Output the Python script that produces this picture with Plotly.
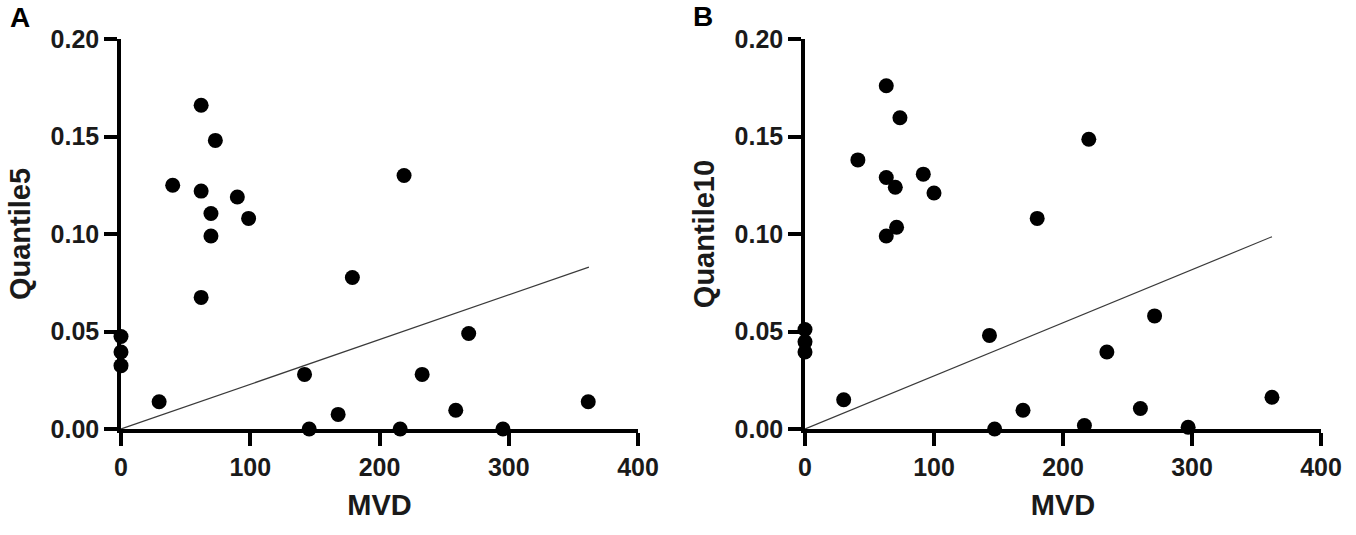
import plotly.graph_objects as go
from plotly.subplots import make_subplots

# panel A: MVD vs Quantile5
mvd_a = [0, 0, 0, 29.5, 40, 62, 62, 62, 73, 69.6, 69.6, 90, 98.7,
         142, 145.6, 168, 179, 216, 219, 233, 259, 269, 295.5, 361.5]
quantile5 = [0.0474, 0.0395, 0.0325, 0.014, 0.125, 0.166, 0.122, 0.0675,
             0.148, 0.1105, 0.099, 0.119, 0.108, 0.028, 0.0, 0.0075,
             0.0777, 0.0, 0.130, 0.028, 0.0096, 0.049, 0.0, 0.014]

# panel B: MVD vs Quantile10
mvd_b = [0, 0, 0, 30, 41, 63, 63, 63, 73.6, 70, 71, 91.7, 100,
         143, 147, 169, 180, 216.6, 220, 234, 260, 271, 297, 362]
quantile10 = [0.051, 0.0447, 0.0395, 0.015, 0.138, 0.176, 0.129, 0.099,
              0.1596, 0.124, 0.1035, 0.1307, 0.121, 0.048, 0.0, 0.0096,
              0.108, 0.0018, 0.1486, 0.0395, 0.0105, 0.058, 0.0009, 0.0163]

# fitted lines (start, end)
fit_x = [0, 362]
fit_a = [0, 0.083]
fit_b = [0, 0.0986]

x_ticks = [0, 100, 200, 300, 400]
y_ticks = [0, 0.05, 0.10, 0.15, 0.20]

W, H = 1356, 535
FONT = "Liberation Sans, Arial, sans-serif"
INK = "#1a1a1a"

fig = make_subplots(rows=1, cols=2)

panels = [(mvd_a, quantile5, fit_a, 1), (mvd_b, quantile10, fit_b, 2)]
for xs, ys, fit, col in panels:
    fig.add_trace(go.Scatter(x=fit_x, y=fit, mode="lines",
                             line=dict(color="#3a3a3a", width=1.2),
                             hoverinfo="skip", cliponaxis=False),
                  row=1, col=col)
    fig.add_trace(go.Scatter(x=xs, y=ys, mode="markers",
                             marker=dict(color="black", size=15),
                             cliponaxis=False),
                  row=1, col=col)

tick_font = dict(family=FONT, size=25, color=INK, weight="bold")
title_font = dict(family=FONT, size=29, color=INK, weight="bold")
axis_common = dict(showline=True, linecolor="black", linewidth=3.5,
                   ticks="outside", ticklen=13, tickwidth=3.5,
                   tickcolor="black", showgrid=False, zeroline=False,
                   automargin=False, tickfont=tick_font)

# pixel-based domains
xa_dom = [121 / W, 638 / W]
xb_dom = [805 / W, 1321 / W]
y_dom = [(H - 429) / H, (H - 39) / H]

fig.update_layout(
    width=W, height=H,
    margin=dict(l=0, r=0, t=0, b=0),
    plot_bgcolor="white", paper_bgcolor="white",
    showlegend=False,
    xaxis=dict(domain=xa_dom, range=[0, 400], tickvals=x_ticks,
               title=dict(text="MVD", standoff=16, font=title_font),
               **axis_common),
    xaxis2=dict(domain=xb_dom, range=[0, 400], tickvals=x_ticks,
                title=dict(text="MVD", standoff=16, font=title_font),
                **axis_common),
    yaxis=dict(domain=y_dom, range=[0, 0.2], tickvals=y_ticks,
               tickformat=".2f",
               title=dict(text="Quantile5", standoff=12, font=title_font),
               **axis_common),
    yaxis2=dict(domain=y_dom, range=[0, 0.2], tickvals=y_ticks,
                tickformat=".2f",
                title=dict(text="Quantile10", standoff=12, font=title_font),
                **axis_common),
)

# panel letters
for letter, px, py in [("A", 20, 17), ("B", 703, 16)]:
    fig.add_annotation(text=letter, xref="paper", yref="paper",
                       x=px / W, y=1 - py / H, xanchor="center",
                       yanchor="middle", showarrow=False,
                       font=dict(family=FONT, size=28, color="black",
                                 weight="bold"))

# drop the default 8px body margin so the figure sits at the page corner
fig.write_html("out.html", config={"displayModeBar": False},
               post_script="document.body.style.margin='0';")
